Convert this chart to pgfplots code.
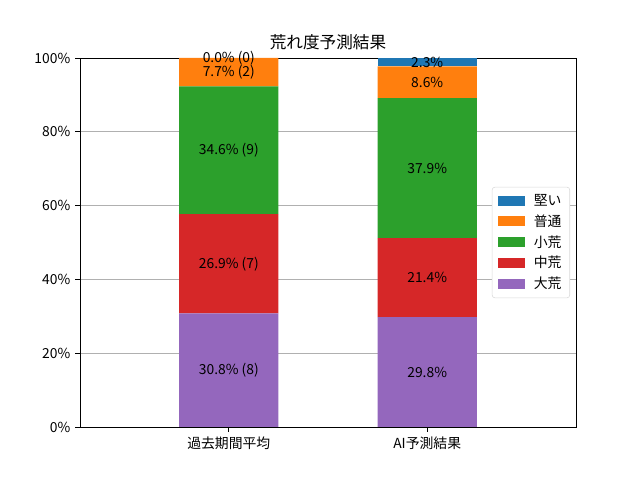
\documentclass[border=0pt]{standalone}
\usepackage{fontspec}
\setmainfont{Noto Sans CJK JP}
\usepackage{pgfplots}
\pgfplotsset{compat=1.18}
\definecolor{tabblue}{HTML}{1F77B4}
\definecolor{taborange}{HTML}{FF7F0E}
\definecolor{tabgreen}{HTML}{2CA02C}
\definecolor{tabred}{HTML}{D62728}
\definecolor{tabpurple}{HTML}{9467BD}
\begin{document}
\fontsize{10}{12}\selectfont
\begin{tikzpicture}
\useasboundingbox (0,0) rectangle (460.8bp,345.6bp);
\begin{axis}[
  at={(57.6bp,38.16bp)}, anchor=south west,
  scale only axis, width=357.12bp, height=265.68bp,
  ybar stacked, bar width=0.5,
  xmin=-0.75, xmax=1.75, ymin=0, ymax=100,
  xtick={0,1}, xticklabels={過去期間平均,AI予測結果},
  ytick={0,20,40,60,80,100},
  yticklabel={\pgfmathprintnumber{\tick}\%},
  /pgf/number format/assume math mode=true,
  tick align=outside, tick pos=left,
  major tick length=3.5bp,
  ymajorgrids, grid style={color=black!31, line width=0.6bp},
  axis line style={line width=0.6bp},
  tick style={line width=0.6bp, black},
  title={荒れ度予測結果},
  title style={font=\fontsize{12}{14}\selectfont, yshift=-4bp},
  ticklabel style={font=\fontsize{10}{12}\selectfont},
  reverse legend,
  legend style={at={(0.988,0.5)}, anchor=east, draw=black!15, rounded corners=2bp,
    font=\fontsize{10}{12}\selectfont, row sep=1.2bp, inner xsep=4bp, inner ysep=3bp},
  legend cell align=left,
  legend image code/.code={\fill[#1, sharp corners] (0bp,-3.6bp) rectangle (20bp,3.6bp);},
]
\addplot[fill=tabpurple, draw=none] coordinates {(0,30.8) (1,29.8)};
\addlegendentry{\hspace{4bp}大荒}
\addplot[fill=tabred, draw=none] coordinates {(0,26.9) (1,21.4)};
\addlegendentry{\hspace{4bp}中荒}
\addplot[fill=tabgreen, draw=none] coordinates {(0,34.6) (1,37.9)};
\addlegendentry{\hspace{4bp}小荒}
\addplot[fill=taborange, draw=none] coordinates {(0,7.7) (1,8.6)};
\addlegendentry{\hspace{4bp}普通}
\addplot[fill=tabblue, draw=none] coordinates {(0,0.0) (1,2.3)};
\addlegendentry{\hspace{4bp}堅い}
\coordinate (a1) at (axis cs:0,15.4);
\coordinate (a2) at (axis cs:0,44.25);
\coordinate (a3) at (axis cs:0,75.0);
\coordinate (a4) at (axis cs:0,96.15);
\coordinate (a5) at (axis cs:0,100);
\coordinate (b1) at (axis cs:1,14.9);
\coordinate (b2) at (axis cs:1,40.5);
\coordinate (b3) at (axis cs:1,70.15);
\coordinate (b4) at (axis cs:1,93.4);
\coordinate (b5) at (axis cs:1,98.85);
\end{axis}
\node at (a1) {30.8\% (8)};
\node at (a2) {26.9\% (7)};
\node at (a3) {34.6\% (9)};
\node at (a4) {7.7\% (2)};
\node at (a5) {0.0\% (0)};
\node at (b1) {29.8\%};
\node at (b2) {21.4\%};
\node at (b3) {37.9\%};
\node at (b4) {8.6\%};
\node at (b5) {2.3\%};
\end{tikzpicture}
\end{document}
